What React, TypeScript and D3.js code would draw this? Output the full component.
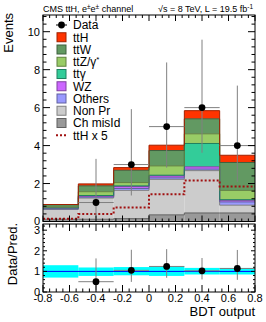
import React from 'react';
import * as d3 from 'd3';

// BDT output bins (6 bins from -0.8 to 0.8)
const binEdges = [-0.8, -0.5333, -0.2667, 0, 0.2667, 0.5333, 0.8];

// stacked backgrounds + signal, bottom to top
const chMisId = [0.12, 0.12, 0.15, 0.35, 0.45, 0.45];
const nonPr = [0.515, 1.116, 1.49, 1.87, 2.23, 0.41];
const others = [0.03, 0.054, 0.1, 0.08, 0.08, 0.17];
const wz = [0.05, 0.05, 0.1, 0.1, 0.12, 0.09];
const ttGamma = [0.0, 0.03, 0.04, 0.04, 1.23, 0.03];
const ttZ = [0.05, 0.2, 0.17, 0.49, 0.51, 0.49];
const ttW = [0.12, 0.31, 0.65, 0.81, 0.79, 1.47];
const ttH = [0.01, 0.1, 0.14, 0.28, 0.43, 0.38];
const ttHx5 = [0.14, 0.39, 0.74, 1.43, 2.16, 1.84];

// data with poisson errors (bin 1 empty)
const dataCounts = [null, 1, 3, 5, 6, 4];
const dataErrLow = [0, 0.83, 1.63, 2.16, 2.38, 1.91];
const dataErrHigh = [0, 2.3, 2.92, 3.38, 3.58, 3.16];

// ratio panel
const ratioVals = [null, 0.5, 1.05, 1.24, 1.03, 1.14];
const ratioLow = [0, 0.08, 0.49, 0.69, 0.61, 0.59];
const ratioHigh = [0, 1.63, 2.05, 2.08, 1.65, 2.04];
const bandLow = [0.7, 0.78, 0.81, 0.78, 0.85, 0.85];
const bandHigh = [1.3, 1.19, 1.21, 1.25, 1.17, 1.17];

const xTickLabels = ['-0.8', '-0.6', '-0.4', '-0.2', '0', '0.2', '0.4', '0.6', '0.8'];
const yTicksMain = [0, 2, 4, 6, 8, 10];
const yTicksRatio = [0, 1, 2, 3];

const keys = ['chMisId', 'nonPr', 'others', 'wz', 'ttGamma', 'ttZ', 'ttW', 'ttH'];
const series: Record<string, number[]> = { chMisId, nonPr, others, wz, ttGamma, ttZ, ttW, ttH };
const colors: Record<string, string> = {
  chMisId: '#999999',
  nonPr: '#cccccc',
  others: '#9999ff',
  wz: '#cc66ff',
  ttGamma: '#33cc99',
  ttZ: '#99cc66',
  ttW: '#629962',
  ttH: '#ff3300',
};

const legendItems: { label: React.ReactNode; type: string; key?: string }[] = [
  { label: 'Data', type: 'data' },
  { label: 'ttH', type: 'box', key: 'ttH' },
  { label: 'ttW', type: 'box', key: 'ttW' },
  { label: <>ttZ/γ<tspan dy="-4" fontSize="8">*</tspan></>, type: 'box', key: 'ttZ' },
  { label: 'ttγ', type: 'box', key: 'ttGamma' },
  { label: 'WZ', type: 'box', key: 'wz' },
  { label: 'Others', type: 'box', key: 'others' },
  { label: 'Non Pr', type: 'box', key: 'nonPr' },
  { label: 'Ch misId', type: 'box', key: 'chMisId' },
  { label: 'ttH x 5', type: 'line' },
];

const font = 'Liberation Sans, Arial, Helvetica, sans-serif';

export default function App() {
  const left = 43, right = 255;
  const mainTop = 15, mainBottom = 221.5;
  const ratTop = 224, ratBottom = 292;

  const x = d3.scaleLinear().domain([-0.8, 0.8]).range([left, right]);
  const y = d3.scaleLinear().domain([0, 10.88]).range([mainBottom, mainTop]);
  const yr = d3.scaleLinear().domain([0, 3.3]).range([ratBottom, ratTop]);

  const rows = binEdges.slice(0, -1).map((_, i) => {
    const r: any = {};
    keys.forEach((k) => (r[k] = series[k][i]));
    return r;
  });
  const stacked = d3.stack<any>().keys(keys)(rows);

  const stepLine = (vals: number[], sc: d3.ScaleLinear<number, number>) => {
    const pts: [number, number][] = [];
    vals.forEach((v, i) => {
      pts.push([x(binEdges[i]), sc(v)]);
      pts.push([x(binEdges[i + 1]), sc(v)]);
    });
    return d3.line()(pts) as string;
  };

  const ticks = (top: number, bottom: number, sc: d3.ScaleLinear<number, number>, yMaj: number[], yMin: number[], xLen: number, yLen: number) => {
    const out: React.ReactNode[] = [];
    const xMaj = d3.range(-0.8, 0.8001, 0.2);
    const xMin = d3.range(-0.8, 0.8001, 0.05);
    xMin.forEach((v, i) => {
      const isMaj = xMaj.some((m) => Math.abs(m - v) < 1e-6);
      const l = isMaj ? xLen : xLen / 2;
      out.push(<line key={'xb' + i} x1={x(v)} x2={x(v)} y1={bottom} y2={bottom - l} />);
      out.push(<line key={'xt' + i} x1={x(v)} x2={x(v)} y1={top} y2={top + l} />);
    });
    yMin.forEach((v, i) => {
      const isMaj = yMaj.some((m) => Math.abs(m - v) < 1e-6);
      const l = isMaj ? yLen : yLen / 2;
      out.push(<line key={'yl' + i} x1={left} x2={left + l} y1={sc(v)} y2={sc(v)} />);
      out.push(<line key={'yr' + i} x1={right} x2={right - l} y1={sc(v)} y2={sc(v)} />);
    });
    return out;
  };

  const mainMinor = d3.range(0, 10.85, 0.4);
  const ratioMinor = d3.range(0, 3.25, 0.2);
  const errColor = '#808080';

  return (
    <svg width={266} height={322} style={{ position: 'absolute', left: 0, top: 0, background: '#fff' }} fontFamily={font}>
      <rect width={266} height={322} fill="#fff" />
      {/* stacked histograms */}
      {stacked.map((s) => (
        <g key={s.key}>
          {s.map((d, i) => (
            <rect
              key={i}
              x={x(binEdges[i])}
              width={x(binEdges[i + 1]) - x(binEdges[i])}
              y={y(d[1])}
              height={Math.max(0, y(d[0]) - y(d[1]))}
              fill={colors[s.key]}
            />
          ))}
        </g>
      ))}
      {stacked.map((s) => (
        <path
          key={'o' + s.key}
          d={stepLine(s.map((d) => d[1]), y)}
          fill="none"
          stroke={d3.color(colors[s.key])!.darker(1.3).formatHex()}
          strokeWidth={1}
        />
      ))}
      {/* ttH x 5 */}
      <path d={stepLine(ttHx5, y)} fill="none" stroke="#a01010" strokeWidth={2} strokeDasharray="2,2" />

      {/* data */}
      {dataCounts.map((c, i) =>
        c == null ? null : (
          <g key={'d' + i} stroke={errColor} strokeWidth={1}>
            <line x1={x(binEdges[i])} x2={x(binEdges[i + 1])} y1={y(c)} y2={y(c)} />
            <line x1={(x(binEdges[i]) + x(binEdges[i + 1])) / 2} x2={(x(binEdges[i]) + x(binEdges[i + 1])) / 2} y1={y(c - dataErrLow[i])} y2={y(c + dataErrHigh[i])} />
            <circle cx={(x(binEdges[i]) + x(binEdges[i + 1])) / 2} cy={y(c)} r={3.4} fill="#000" stroke="none" />
          </g>
        )
      )}

      {/* legend */}
      {legendItems.map((it, i) => {
        const cy = 25 + i * 12.25;
        return (
          <g key={'l' + i}>
            {it.type === 'data' && (
              <g>
                <line x1={56} x2={67} y1={cy} y2={cy} stroke="#000" />
                <circle cx={61.5} cy={cy} r={3.4} fill="#000" />
              </g>
            )}
            {it.type === 'box' && (
              <rect x={57} y={cy - 4.5} width={9} height={9} fill={colors[it.key!]} stroke={d3.color(colors[it.key!])!.darker(1.3).formatHex()} strokeWidth={1} />
            )}
            {it.type === 'line' && <line x1={56} x2={67} y1={cy} y2={cy} stroke="#a01010" strokeWidth={2} strokeDasharray="2,2" />}
            <text x={73} y={cy} dy="0.36em" fontSize={12} fill="#000">
              {it.label}
            </text>
          </g>
        );
      })}

      {/* main frame */}
      <g stroke="#000" strokeWidth={1} fill="none">
        <rect x={left} y={mainTop} width={right - left} height={mainBottom - mainTop} />
        {ticks(mainTop, mainBottom, y, yTicksMain, mainMinor, 6, 7)}
      </g>
      {yTicksMain.map((v) => (
        <text key={'ym' + v} x={40} y={y(v)} dy="0.36em" textAnchor="end" fontSize={11}>
          {v}
        </text>
      ))}
      <text transform={`translate(13,13) rotate(-90)`} textAnchor="end" fontSize={13}>
        Events
      </text>

      {/* header */}
      <text x={43} y={12} fontSize={9}>
        CMS ttH, e<tspan dy="-3" fontSize={6.5}>±</tspan>
        <tspan dy="3">e</tspan>
        <tspan dy="-3" fontSize={6.5}>±</tspan>
        <tspan dy="3"> channel</tspan>
      </text>
      <text x={253} y={12} fontSize={9} textAnchor="end">
        √s = 8 TeV, L = 19.5 fb<tspan dy="-3.5" fontSize={6.5}>-1</tspan>
      </text>

      {/* ratio panel */}
      {bandLow.map((lo, i) => (
        <rect key={'b' + i} x={x(binEdges[i])} width={x(binEdges[i + 1]) - x(binEdges[i])} y={yr(bandHigh[i])} height={yr(lo) - yr(bandHigh[i])} fill="#00ffff" />
      ))}
      <line x1={left} x2={right} y1={yr(1)} y2={yr(1)} stroke="#0000ff" strokeWidth={1} />
      {ratioVals.map((r, i) =>
        r == null ? null : (
          <g key={'r' + i} stroke={errColor} strokeWidth={1}>
            <line x1={x(binEdges[i])} x2={x(binEdges[i + 1])} y1={yr(r)} y2={yr(r)} />
            <line x1={(x(binEdges[i]) + x(binEdges[i + 1])) / 2} x2={(x(binEdges[i]) + x(binEdges[i + 1])) / 2} y1={yr(ratioLow[i])} y2={yr(ratioHigh[i])} />
            <circle cx={(x(binEdges[i]) + x(binEdges[i + 1])) / 2} cy={yr(r)} r={3.4} fill="#000" stroke="none" />
          </g>
        )
      )}
      <g stroke="#000" strokeWidth={1} fill="none">
        <rect x={left} y={ratTop} width={right - left} height={ratBottom - ratTop} />
        {ticks(ratTop, ratBottom, yr, yTicksRatio, ratioMinor, 7, 4)}
      </g>
      {yTicksRatio.map((v) => (
        <text key={'yr' + v} x={40} y={yr(v)} dy="0.36em" textAnchor="end" fontSize={11}>
          {v}
        </text>
      ))}
      {xTickLabels.map((t) => (
        <text key={'xl' + t} x={x(+t)} y={302} textAnchor="middle" fontSize={11}>
          {t}
        </text>
      ))}
      <text x={255} y={316} textAnchor="end" fontSize={13}>
        BDT output
      </text>
      <text transform={`translate(17,223) rotate(-90)`} textAnchor="end" fontSize={13}>
        Data/Pred.
      </text>
    </svg>
  );
}
